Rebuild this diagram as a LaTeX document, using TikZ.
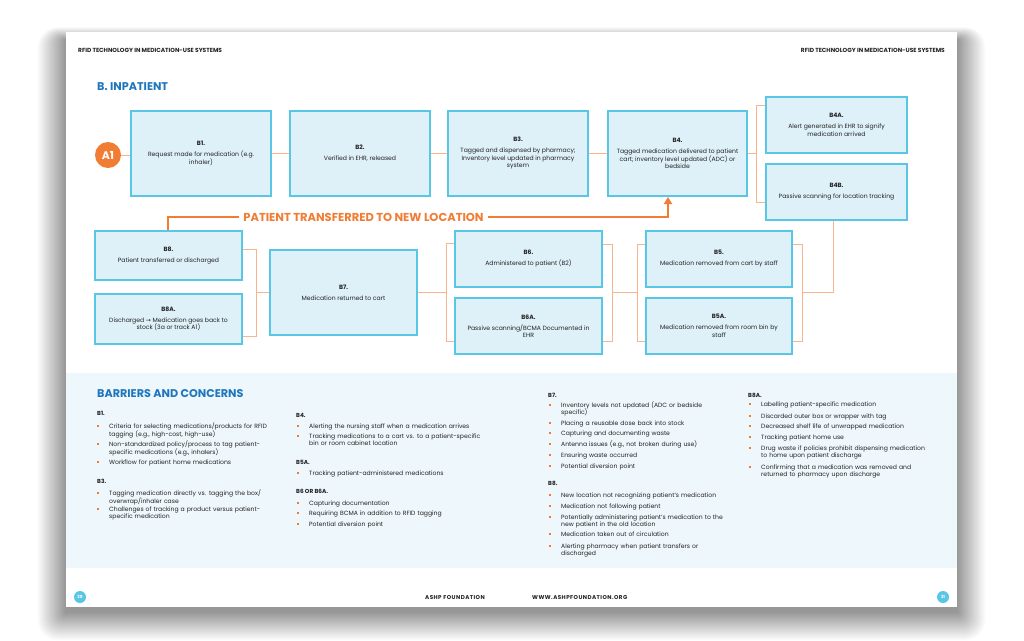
\documentclass[tikz,border=0pt]{standalone}
\usepackage{fontspec}
\setmainfont{Poppins}
\newfontfamily\symf{DejaVu Sans}
\usetikzlibrary{arrows.meta}
\definecolor{cyanb}{RGB}{90,198,230}
\definecolor{boxfill}{RGB}{222,240,248}
\definecolor{orng}{RGB}{241,125,52}
\definecolor{lorng}{RGB}{249,180,140}
\definecolor{hblue}{RGB}{30,118,190}
\definecolor{bgblue}{RGB}{238,247,251}
\definecolor{txt}{RGB}{35,35,35}
\newcommand{\bsq}{\llap{\textcolor{orng}{\rule[1pt]{2.2pt}{2.2pt}}\hspace{10pt}}}
\begin{document}
\begin{tikzpicture}[x=1pt,y=-1pt,
  bx/.style={draw=cyanb, fill=boxfill, line width=2.4pt, align=center, inner sep=1pt, text=txt, font=\fontsize{6.1}{7.5}\selectfont},
  con/.style={draw=lorng, line width=0.9pt},
  xfer/.style={draw=orng, line width=2.6pt},
  bul/.style={anchor=base west, inner sep=0pt, text width=220pt, align=left, text=txt, font=\fontsize{6.1}{7.3}\selectfont},
  sec/.style={anchor=base west, inner sep=0pt, text=txt, font=\bfseries\fontsize{5.8}{7}\selectfont},
  hd/.style={anchor=base west, inner sep=0pt, text=hblue, font=\bfseries\fontsize{11.2}{13}\selectfont},
  tiny/.style={inner sep=0pt, text=txt, font=\bfseries\fontsize{5.9}{7}\selectfont},
  foot/.style={inner sep=0pt, text=txt, font=\bfseries\fontsize{5.6}{7}\selectfont\addfontfeature{LetterSpace=8}},
  pg/.style={circle, fill=cyanb, minimum size=12pt, inner sep=0pt, text=white, font=\bfseries\fontsize{4.2}{5}\selectfont}]
\useasboundingbox (0,0) rectangle (1024,640);
\fill[white] (0,0) rectangle (1024,640);
% shadow
\foreach \i in {1,...,52}{
  \fill[black, opacity=0.0095, rounded corners=\i*0.4pt] (66-\i*0.55, 40-\i*0.25) rectangle (957+\i*0.55, 612+\i*0.55);
}
% page
\fill[white] (66,32) rectangle (957,607);
\fill[bgblue] (66,373) rectangle (957,568);

% headers
\node[tiny, anchor=base west] (hl) at (78,52) {RFID TECHNOLOGY IN MEDICATION-USE SYSTEMS};
\node[tiny, anchor=base east] (hr) at (945,52) {RFID TECHNOLOGY IN MEDICATION-USE SYSTEMS};
\node[hd] (tin) at (97,90) {B. INPATIENT};

% boxes
\node[bx, minimum width=139.6, minimum height=84.6] (B1) at (201,153.5) {\textbf{B1.}\\[3.5pt]Request made for medication (e.g.\\inhaler)};
\node[bx, minimum width=139.6, minimum height=84.6] (B2) at (360,153.5) {\textbf{B2.}\\[3.5pt]Verified in EHR, released};
\node[bx, minimum width=139.6, minimum height=84.6] (B3) at (518,153.5) {\textbf{B3.}\\[3.5pt]Tagged and dispensed by pharmacy;\\Inventory level updated in pharmacy\\system};
\node[bx, minimum width=138.6, minimum height=84.6] (B4) at (677.5,153.5) {\textbf{B4.}\\[3.5pt]Tagged medication delivered to patient\\cart; inventory level updated (ADC) or\\bedside};
\node[bx, minimum width=140.6, minimum height=55.6] (B4A) at (836.5,125) {\textbf{B4A.}\\[3.5pt]Alert generated in EHR to signify\\medication arrived};
\node[bx, minimum width=140.6, minimum height=55.6] (B4B) at (836.5,192) {\textbf{B4B.}\\[3.5pt]Passive scanning for location tracking};
\node[bx, minimum width=146.6, minimum height=48.6] (B8) at (168.5,255.5) {\textbf{B8.}\\[3.5pt]Patient transferred or discharged};
\node[bx, minimum width=146.6, minimum height=49.6] (B8A) at (168.5,319) {\textbf{B8A.}\\[3.5pt]Discharged {\symf →} Medication goes back to\\stock (3a or track A1)};
\node[bx, minimum width=146.6, minimum height=84.6] (B7) at (343.5,292.5) {\textbf{B7.}\\[3.5pt]Medication returned to cart};
\node[bx, minimum width=146.6, minimum height=55.6] (B6) at (528.5,259) {\textbf{B6.}\\[3.5pt]Administered to patient (B2)};
\node[bx, minimum width=146.6, minimum height=55.6] (B6A) at (528.5,326) {\textbf{B6A.}\\[3.5pt]Passive scanning/BCMA Documented in\\EHR};
\node[bx, minimum width=145.6, minimum height=55.6] (B5) at (719,259) {\textbf{B5.}\\[3.5pt]Medication removed from cart by staff};
\node[bx, minimum width=145.6, minimum height=55.6] (B5A) at (719,326) {\textbf{B5A.}\\[3.5pt]Medication removed from room bin by\\staff};

\node[circle, fill=orng, minimum size=26pt, inner sep=0pt, text=white, font=\bfseries\fontsize{11}{12}\selectfont] (A1) at (108,155) {A1};

% connectors
\draw[con] (A1.east) -- (A1.east -| B1.west);
\draw[con] (B1) -- (B2);
\draw[con] (B2) -- (B3);
\draw[con] (B3) -- (B4);
\coordinate (ka) at (756,105); \coordinate (kb) at (756,202);
\draw[con] (B4.east) -- (B4.east -| ka);
\draw[con] (B4A.west |- ka) -- (ka) -- (kb) -- (B4B.west |- kb);
\coordinate (la) at (256,249); \coordinate (lb) at (256,336);
\draw[con] (B8.east |- la) -- (la) -- (lb) -- (B8A.east |- lb);
\draw[con] (B7.west -| la) -- (B7.west);
\coordinate (ma) at (446,243); \coordinate (mb) at (446,341);
\draw[con] (B7.east) -- (B7.east -| ma);
\draw[con] (B6.west |- ma) -- (ma) -- (mb) -- (B6A.west |- mb);
\coordinate (na) at (612,244); \coordinate (nb) at (612,341);
\coordinate (oa) at (637,244); \coordinate (ob) at (637,341);
\coordinate (nm) at (612,292); \coordinate (om) at (637,292);
\draw[con] (B6.east |- na) -- (na) -- (nb) -- (B6A.east |- nb);
\draw[con] (B5.west |- oa) -- (oa) -- (ob) -- (B5A.west |- ob);
\draw[con] (nm) -- (om);
\coordinate (pa) at (802,244); \coordinate (pb) at (802,341);
\coordinate (pm) at (802,292); \coordinate (qm) at (833,292);
\draw[con] (B5.east |- pa) -- (pa) -- (pb) -- (B5A.east |- pb);
\draw[con] (pm) -- (qm) -- (qm |- B4B.south);

% transfer
\coordinate (t1) at (168,217); \coordinate (t2) at (668,217);
\draw[xfer, -{Triangle[width=8pt,length=7pt]}] (B8.north -| t1) -- (t1) -- (t2) -- (B4.south -| t2);
\node[fill=white, inner xsep=4pt, inner ysep=1pt, text=orng, font=\bfseries\fontsize{11.5}{13}\selectfont] (tl) at (363.5,217) {PATIENT TRANSFERRED TO NEW LOCATION};

% barriers
\node[hd] (bac) at (97,397) {BARRIERS AND CONCERNS};
% col 1
\node[sec] (s1) at (97,415) {B1.};
\node[bul] (c1a) at (109,428) {\bsq Criteria for selecting medications/products for RFID\\tagging (e.g., high-cost, high-use)};
\node[bul] (c1b) at (109,446) {\bsq Non-standardized policy/process to tag patient-\\specific medications (e.g., inhalers)};
\node[bul] (c1c) at (109,464) {\bsq Workflow for patient home medications};
\node[sec] (s2) at (97,483) {B3.};
\node[bul] (c1d) at (109,495) {\bsq Tagging medication directly vs. tagging the box/\\overwrap/inhaler case};
\node[bul] (c1e) at (109,511) {\bsq Challenges of tracking a product versus patient-\\specific medication};
% col 2
\node[sec] (s3) at (296,417) {B4.};
\node[bul] (c2a) at (309,428) {\bsq Alerting the nursing staff when a medication arrives};
\node[bul] (c2b) at (309,438) {\bsq Tracking medications to a cart vs. to a patient-specific\\bin or room cabinet location};
\node[sec] (s4) at (296,464) {B5A.};
\node[bul] (c2c) at (309,475) {\bsq Tracking patient-administered medications};
\node[sec] (s5) at (296,493) {B6 OR B6A.};
\node[bul] (c2d) at (309,505) {\bsq Capturing documentation};
\node[bul] (c2e) at (309,515) {\bsq Requiring BCMA in addition to RFID tagging};
\node[bul] (c2f) at (309,526) {\bsq Potential diversion point};
% col 3
\node[sec] (s6) at (548,397) {B7.};
\node[bul] (c3a) at (561,407) {\bsq Inventory levels not updated (ADC or bedside\\specific)};
\node[bul] (c3b) at (561,425) {\bsq Placing a reusable dose back into stock};
\node[bul] (c3c) at (561,435) {\bsq Capturing and documenting waste};
\node[bul] (c3d) at (561,446) {\bsq Antenna issues (e.g., not broken during use)};
\node[bul] (c3e) at (561,457) {\bsq Ensuring waste occurred};
\node[bul] (c3f) at (561,468) {\bsq Potential diversion point};
\node[sec] (s7) at (548,485) {B8.};
\node[bul] (c3g) at (561,497) {\bsq New location not recognizing patient's medication};
\node[bul] (c3h) at (561,508) {\bsq Medication not following patient};
\node[bul] (c3i) at (561,519) {\bsq Potentially administering patient's medication to the\\new patient in the old location};
\node[bul] (c3j) at (561,536) {\bsq Medication taken out of circulation};
\node[bul] (c3k) at (561,548) {\bsq Alerting pharmacy when patient transfers or\\discharged};
% col 4
\node[sec] (s8) at (748,397) {B8A.};
\node[bul] (c4a) at (761,406) {\bsq Labelling patient-specific medication};
\node[bul] (c4b) at (761,418) {\bsq Discarded outer box or wrapper with tag};
\node[bul] (c4c) at (761,428) {\bsq Decreased shelf life of unwrapped medication};
\node[bul] (c4d) at (761,439) {\bsq Tracking patient home use};
\node[bul] (c4e) at (761,450) {\bsq Drug waste if policies prohibit dispensing medication\\to home upon patient discharge};
\node[bul] (c4f) at (761,469) {\bsq Confirming that a medication was removed and\\returned to pharmacy upon discharge};

% footer
\node[foot, anchor=base west] (f1) at (425,599) {ASHP FOUNDATION};
\node[foot, anchor=base west] (f2) at (532,599) {WWW.ASHPFOUNDATION.ORG};
\node[pg] (p20) at (80,597) {20};
\node[pg] (p21) at (943,597) {21};
\end{tikzpicture}
\end{document}
